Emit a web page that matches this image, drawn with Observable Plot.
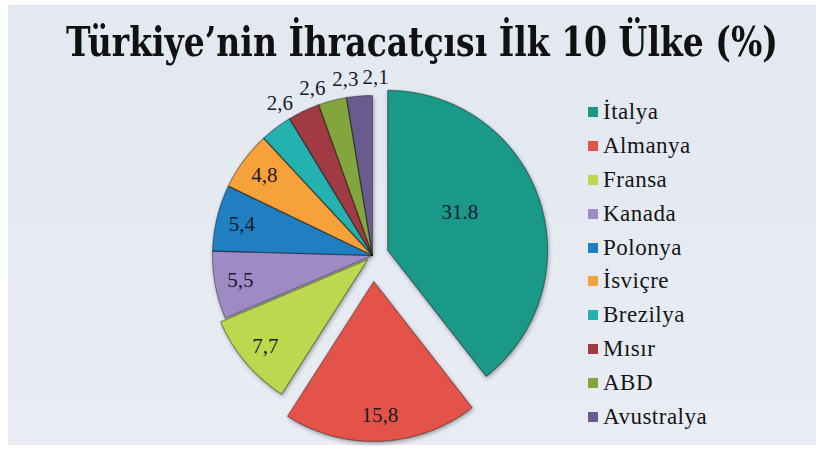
<!DOCTYPE html>
<html>
<head>
<meta charset="utf-8">
<script src="https://cdn.jsdelivr.net/npm/d3@7"></script>
<script src="https://cdn.jsdelivr.net/npm/@observablehq/plot@0.6"></script>
<style>
  html, body { margin: 0; padding: 0; background: #ffffff; }
  #page { position: relative; width: 824px; height: 452px; overflow: hidden; }
  #frame { position: absolute; left: 8px; top: 5px; width: 808px; height: 440px;
           background: linear-gradient(180deg, #e3e8f1 0%, #e6eaf2 60%, #e9ecf3 100%); }
  #title { position: absolute; left: 0; top: 18px; white-space: nowrap;
           font-family: "DejaVu Serif", serif; font-stretch: condensed; font-weight: bold;
           font-size: 41px; line-height: 48px; color: #111; transform-origin: 0 0; }
  #chart { position: absolute; left: 0; top: 70px; }
  #legend { position: absolute; left: 588px; top: 95px; }
</style>
</head>
<body>
<div id="page">
  <div id="frame"></div>
  <div id="title"></div>
  <div id="chart"></div>
  <div id="legend"></div>
</div>
<script>
// ---- data ----
const titleText = "Türkiye’nin İhracatçısı İlk 10 Ülke (%)";
const countries = ["İtalya", "Almanya", "Fransa", "Kanada", "Polonya", "İsviçre", "Brezilya", "Mısır", "ABD", "Avustralya"];
const shares = [31.8, 15.8, 7.7, 5.5, 5.4, 4.8, 2.6, 2.6, 2.3, 2.1];
const shareLabels = ["31.8", "15,8", "7,7", "5,5", "5,4", "4,8", "2,6", "2,6", "2,3", "2,1"];
const colors = ["#1a9888", "#e4534a", "#bdd84e", "#9f8ac6", "#1f7fc0", "#f7a13a", "#23b2b0", "#a03b44", "#83a53d", "#6a5b8f"];

// ---- layout ----
const SERIF = '"Liberation Serif", "Times New Roman", serif';
const W = 824, H = 382, topOffset = 70;
const cx = 372, cy = 255 - topOffset, R = 160;
const explodeBy = new Map([["İtalya", 16], ["Almanya", 26], ["Fransa", 6]]);

// title
const t = document.getElementById("title");
t.textContent = titleText;
const tw = t.getBoundingClientRect().width;
const targetW = 712;
t.style.transform = `scaleX(${targetW / tw})`;
t.style.left = (422 - targetW / 2) + "px";

const rows = countries.map((name, i) => ({name, value: shares[i], label: shareLabels[i]}));
const arcs = d3.pie().sort(null).value(d => d.value)(rows);
const pts = [];
const labelPts = [];
arcs.forEach(a => {
  const name = a.data.name;
  const mid = (a.startAngle + a.endAngle) / 2;
  const off = explodeBy.get(name) || 0;
  const ox = cx + off * Math.sin(mid), oy = cy - off * Math.cos(mid);
  pts.push({name, x: ox, y: oy});
  const n = Math.max(2, Math.ceil((a.endAngle - a.startAngle) / 0.01));
  for (let k = 0; k <= n; k++) {
    const ang = a.startAngle + (a.endAngle - a.startAngle) * k / n;
    pts.push({name, x: ox + R * Math.sin(ang), y: oy - R * Math.cos(ang)});
  }
  const theta = a.endAngle - a.startAngle;
  const inside = a.data.value >= 4;
  let rl, la = mid;
  if (!inside) { rl = R + 18; la = mid + 0.1; }
  else if (theta > Math.PI / 2) { rl = 2 * R * Math.sin(theta / 2) / (1.5 * theta); la = mid - 0.15; }
  else rl = 0.84 * R;
  labelPts.push({label: a.data.label, x: ox + rl * Math.sin(la), y: oy - rl * Math.cos(la)});
});

const chart = Plot.plot({
  width: W, height: H, margin: 0,
  x: {domain: [0, W], range: [0, W], axis: null},
  y: {domain: [0, H], range: [0, H], axis: null},
  color: {domain: countries, range: colors},
  style: {background: "transparent", overflow: "visible", fontFamily: SERIF},
  marks: [
    Plot.line(pts, {x: "x", y: "y", z: "name", fill: "name", stroke: "none", curve: "linear-closed"}),
    Plot.line(pts, {x: "x", y: "y", z: "name", stroke: "#000", strokeOpacity: 0.35, strokeWidth: 1.2, curve: "linear-closed"}),
    Plot.text(labelPts, {x: "x", y: "y", text: "label", fontSize: 21, fill: "#1a1a2a"})
  ]
});
const lineGroups = chart.querySelectorAll('g[aria-label="line"]');
if (lineGroups[0]) lineGroups[0].style.filter = "drop-shadow(1.5px 2.5px 2px rgba(0,0,0,0.35))";
chart.querySelectorAll("text").forEach(el => { el.style.fontFamily = SERIF; });
document.getElementById("chart").appendChild(chart);

const legend = Plot.legend({
  color: {domain: countries, range: colors},
  legend: "swatches", columns: 1, swatchSize: 10, width: 220,
  style: {fontFamily: SERIF, fontSize: "23px", color: "#151515"}
});
legend.style.fontFamily = SERIF;
legend.style.fontSize = "23px";
legend.querySelectorAll("div").forEach(el => {
  el.style.fontFamily = SERIF;
  el.style.fontSize = "23px";
  el.style.color = "#151515";
  el.style.letterSpacing = "0.5px";
  el.style.overflow = "visible";
});
legend.querySelectorAll("div > svg").forEach(el => {
  el.parentElement.style.height = "33.9px";
  el.parentElement.style.paddingBottom = "0";
  el.style.marginRight = "5px";
});
document.getElementById("legend").appendChild(legend);
</script>
</body>
</html>
